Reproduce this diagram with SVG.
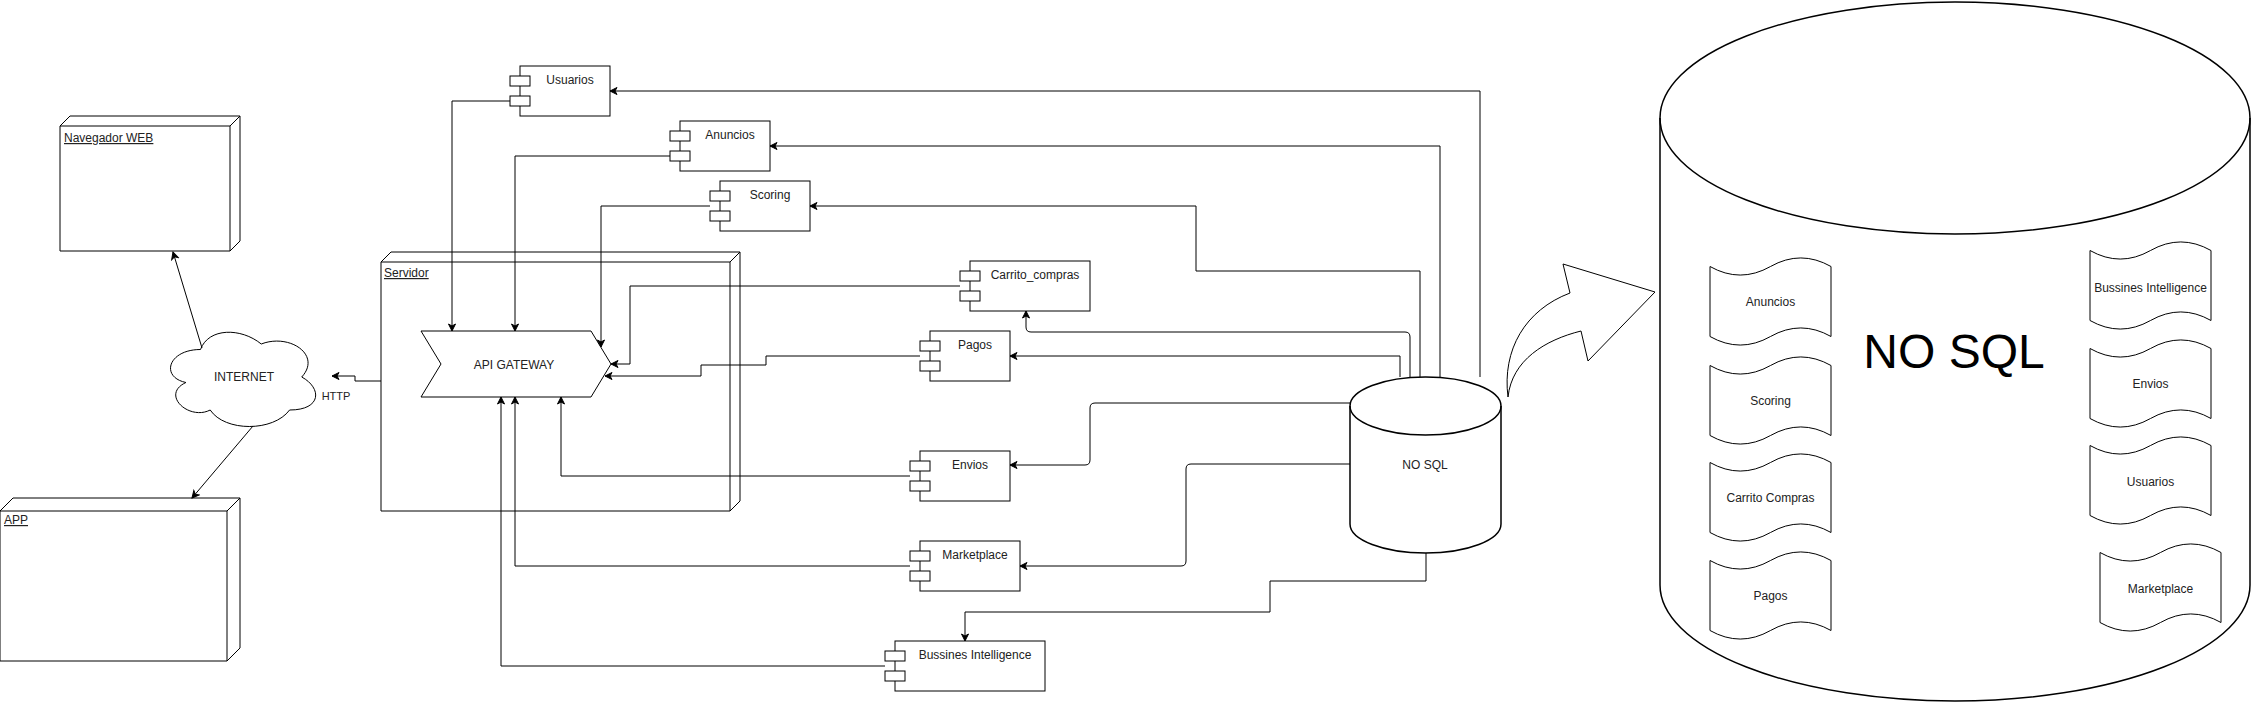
<svg xmlns="http://www.w3.org/2000/svg" width="2252" height="702" viewBox="0 0 2252 702">
<style>
  .s{fill:#fff;stroke:#000;stroke-width:1}
  .t{font-family:"Liberation Sans",Arial,sans-serif;font-size:12px;fill:#222}
  .c{text-anchor:middle}
  .u{text-decoration:underline}
  .e{fill:none;stroke:#000;stroke-width:1}
  .db{fill:#fff;stroke:#000;stroke-width:1.5}
</style>
<defs>
  <marker id="arr" viewBox="-8 -5 10 10" markerWidth="10" markerHeight="10" refX="0" refY="0" orient="auto" markerUnits="userSpaceOnUse">
    <path d="M0,0 L-7,-3.5 L-5,0 L-7,3.5 Z" fill="#000" stroke="#000" stroke-width="1"/>
  </marker>
</defs>
<rect width="2252" height="702" fill="#fff"/>

<!-- 3D nodes -->
<g id="navegador">
  <path class="s" d="M60,126 L70,116 L240,116 L240,241 L230,251 L60,251 Z"/>
  <path class="e" d="M60,126 L230,126 L240,116 M230,126 L230,251"/>
  <text class="t u" x="64" y="142">Navegador WEB</text>
</g>
<g id="app">
  <path class="s" d="M0,511 L13,498 L240,498 L240,648 L227,661 L0,661 Z"/>
  <path class="e" d="M0,511 L227,511 L240,498 M227,511 L227,661"/>
  <text class="t u" x="4" y="524">APP</text>
</g>
<g id="servidor">
  <path class="s" d="M381,262 L391,252 L740,252 L740,501 L730,511 L381,511 Z"/>
  <path class="e" d="M381,262 L730,262 L740,252 M730,262 L730,511"/>
  <text class="t u" x="384" y="277">Servidor</text>
</g>
<g id="internet">
  <path class="s" d="M200.5,349.5 C168.1,349.5 160,377 185.9,382.5 C160,394.6 189.2,421 210.2,410 C224.8,432 273.4,432 289.6,410 C322,410 322,388 301.75,377 C322,355 289.6,333 261.25,344 C241,327.5 208.6,327.5 200.5,349.5 Z"/>
  <text class="t c" x="244" y="381">INTERNET</text>
</g>
<g id="api-gateway">
  <path class="s" d="M421,331 L591,331 L611,364 L591,397 L421,397 L441,364 Z"/>
  <text class="t c" x="514" y="369">API GATEWAY</text>
</g>

<!-- components -->
<g id="usuarios">
  <rect class="s" x="520" y="66" width="90" height="50"/>
  <rect class="s" x="510" y="76" width="20" height="10"/>
  <rect class="s" x="510" y="96" width="20" height="10"/>
  <text class="t c" x="570" y="84">Usuarios</text>
</g>
<g id="anuncios">
  <rect class="s" x="680" y="121" width="90" height="50"/>
  <rect class="s" x="670" y="131" width="20" height="10"/>
  <rect class="s" x="670" y="151" width="20" height="10"/>
  <text class="t c" x="730" y="139">Anuncios</text>
</g>
<g id="scoring">
  <rect class="s" x="720" y="181" width="90" height="50"/>
  <rect class="s" x="710" y="191" width="20" height="10"/>
  <rect class="s" x="710" y="211" width="20" height="10"/>
  <text class="t c" x="770" y="199">Scoring</text>
</g>
<g id="carrito">
  <rect class="s" x="970" y="261" width="120" height="50"/>
  <rect class="s" x="960" y="271" width="20" height="10"/>
  <rect class="s" x="960" y="291" width="20" height="10"/>
  <text class="t c" x="1035" y="279">Carrito_compras</text>
</g>
<g id="pagos">
  <rect class="s" x="930" y="331" width="80" height="50"/>
  <rect class="s" x="920" y="341" width="20" height="10"/>
  <rect class="s" x="920" y="361" width="20" height="10"/>
  <text class="t c" x="975" y="349">Pagos</text>
</g>
<g id="envios">
  <rect class="s" x="920" y="451" width="90" height="50"/>
  <rect class="s" x="910" y="461" width="20" height="10"/>
  <rect class="s" x="910" y="481" width="20" height="10"/>
  <text class="t c" x="970" y="469">Envios</text>
</g>
<g id="marketplace">
  <rect class="s" x="920" y="541" width="100" height="50"/>
  <rect class="s" x="910" y="551" width="20" height="10"/>
  <rect class="s" x="910" y="571" width="20" height="10"/>
  <text class="t c" x="975" y="559">Marketplace</text>
</g>
<g id="bi">
  <rect class="s" x="895" y="641" width="150" height="50"/>
  <rect class="s" x="885" y="651" width="20" height="10"/>
  <rect class="s" x="885" y="671" width="20" height="10"/>
  <text class="t c" x="975" y="659">Bussines Intelligence</text>
</g>

<!-- small database -->
<g id="nosql">
  <path class="db" d="M1350,406 A75.5,29 0 0 1 1501,406 L1501,524 A75.5,29 0 0 1 1350,524 Z"/>
  <path class="e" style="stroke-width:1.5" d="M1350,406 A75.5,29 0 0 0 1501,406"/>
  <text class="t c" x="1425" y="469">NO SQL</text>
</g>

<!-- connectors -->
<g id="connectors" class="e" marker-end="url(#arr)">
  <path class="e" marker-end="url(#arr)" d="M202,348 L173,252"/>
  <path class="e" marker-end="url(#arr)" d="M253,426 L192,498"/>
  <path class="e" marker-end="url(#arr)" d="M381,381 L355,381 L355,376 L332,376"/>
  <path class="e" marker-end="url(#arr)" d="M510,101 L452,101 L452,331"/>
  <path class="e" marker-end="url(#arr)" d="M670,156 L515,156 L515,331"/>
  <path class="e" marker-end="url(#arr)" d="M710,206 L601,206 L601,347"/>
  <path class="e" marker-end="url(#arr)" d="M960,286 L630,286 L630,364 L611,364"/>
  <path class="e" marker-end="url(#arr)" d="M920,356 L766,356 L766,365 L701,365 L701,376 L605,376"/>
  <path class="e" marker-end="url(#arr)" d="M910,476 L561,476 L561,397"/>
  <path class="e" marker-end="url(#arr)" d="M910,566 L515,566 L515,397"/>
  <path class="e" marker-end="url(#arr)" d="M885,666 L501,666 L501,397"/>
  <path class="e" marker-end="url(#arr)" d="M1480,377 L1480,91 L610,91"/>
  <path class="e" marker-end="url(#arr)" d="M1440,377 L1440,146 L770,146"/>
  <path class="e" marker-end="url(#arr)" d="M1420,377 L1420,271 L1196,271 L1196,206 L810,206"/>
  <path class="e" marker-end="url(#arr)" d="M1410,377 L1410,337 Q1410,332 1405,332 L1031,332 Q1026,332 1026,327 L1026,311"/>
  <path class="e" marker-end="url(#arr)" d="M1400,377 L1400,356 L1010,356"/>
  <path class="e" marker-end="url(#arr)" d="M1350,403 L1095,403 Q1090,403 1090,408 L1090,460 Q1090,465 1085,465 L1010,465"/>
  <path class="e" marker-end="url(#arr)" d="M1350,464 L1191,464 Q1186,464 1186,469 L1186,561 Q1186,566 1181,566 L1020,566"/>
  <path class="e" marker-end="url(#arr)" d="M1426,553 L1426,581 L1270,581 L1270,612 L965,612 L965,641"/>
  <text class="t c" style="font-size:11px" x="336" y="400" stroke="none">HTTP</text>
</g>

<!-- curved arrow -->
<g id="curved-arrow">
  <path class="s" d="M1508,397 C1502,350 1525,310 1570,293 L1563,264 L1655,292 L1588,361 L1581,331 C1545,340 1512,360 1508,397 Z"/>
</g>

<!-- big database -->
<g id="nosql-big">
  <path class="db" d="M1660,118 A295,116 0 0 1 2250,118 L2250,585 A295,116 0 0 1 1660,585 Z"/>
  <path class="e" style="stroke-width:1.5" d="M1660,118 A295,116 0 0 0 2250,118"/>
  <text x="1954" y="368" style="font-family:'Liberation Sans',Arial,sans-serif;font-size:48px;fill:#000" text-anchor="middle">NO SQL</text>
</g>

<g id="doc-anuncios">
  <path class="s" d="M1710,266.5 Q1740.25,283.6 1770.5,266.5 Q1800.75,249.4 1831,266.5 L1831,336.5 Q1800.75,319.4 1770.5,336.5 Q1740.25,353.6 1710,336.5 Z"/>
  <text class="t c" x="1770.5" y="305.5">Anuncios</text>
</g>
<g id="doc-scoring">
  <path class="s" d="M1710,365.5 Q1740.25,382.6 1770.5,365.5 Q1800.75,348.4 1831,365.5 L1831,435.5 Q1800.75,418.4 1770.5,435.5 Q1740.25,452.6 1710,435.5 Z"/>
  <text class="t c" x="1770.5" y="404.5">Scoring</text>
</g>
<g id="doc-carrito">
  <path class="s" d="M1710,462.5 Q1740.25,479.6 1770.5,462.5 Q1800.75,445.4 1831,462.5 L1831,532.5 Q1800.75,515.4 1770.5,532.5 Q1740.25,549.6 1710,532.5 Z"/>
  <text class="t c" x="1770.5" y="501.5">Carrito Compras</text>
</g>
<g id="doc-pagos">
  <path class="s" d="M1710,560.5 Q1740.25,577.6 1770.5,560.5 Q1800.75,543.4 1831,560.5 L1831,630.5 Q1800.75,613.4 1770.5,630.5 Q1740.25,647.6 1710,630.5 Z"/>
  <text class="t c" x="1770.5" y="599.5">Pagos</text>
</g>
<g id="doc-bi">
  <path class="s" d="M2090,250.5 Q2120.25,267.6 2150.5,250.5 Q2180.75,233.4 2211,250.5 L2211,320.5 Q2180.75,303.4 2150.5,320.5 Q2120.25,337.6 2090,320.5 Z"/>
  <text class="t c" x="2150.5" y="292">Bussines Intelligence</text>
</g>
<g id="doc-envios">
  <path class="s" d="M2090,348.5 Q2120.25,365.6 2150.5,348.5 Q2180.75,331.4 2211,348.5 L2211,418.5 Q2180.75,401.4 2150.5,418.5 Q2120.25,435.6 2090,418.5 Z"/>
  <text class="t c" x="2150.5" y="388">Envios</text>
</g>
<g id="doc-usuarios">
  <path class="s" d="M2090,445.5 Q2120.25,462.6 2150.5,445.5 Q2180.75,428.4 2211,445.5 L2211,515.5 Q2180.75,498.4 2150.5,515.5 Q2120.25,532.6 2090,515.5 Z"/>
  <text class="t c" x="2150.5" y="486">Usuarios</text>
</g>
<g id="doc-marketplace">
  <path class="s" d="M2100,552.5 Q2130.25,569.6 2160.5,552.5 Q2190.75,535.4 2221,552.5 L2221,622.5 Q2190.75,605.4 2160.5,622.5 Q2130.25,639.6 2100,622.5 Z"/>
  <text class="t c" x="2160.5" y="593">Marketplace</text>
</g>
</svg>
